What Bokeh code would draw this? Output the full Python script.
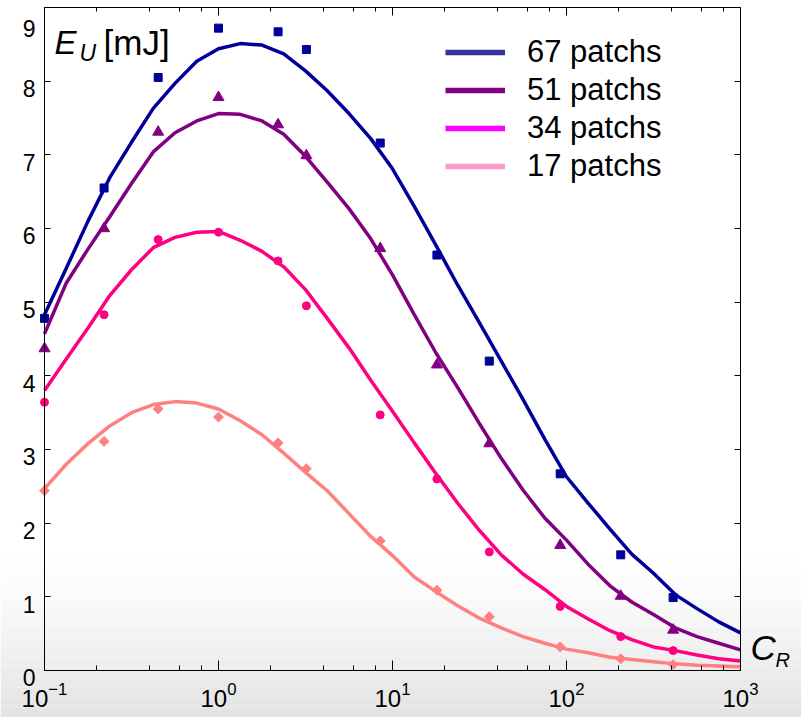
from bokeh.plotting import figure
from bokeh.models import (Range1d, LogAxis, LinearAxis, FixedTicker, LogTicker,
                          Label, Legend, LegendItem, CustomJSTickFormatter, BoxAnnotation)
from bokeh.embed import file_html
from bokeh.resources import INLINE
import math

# ---------------- data ----------------
# fitted curves, sampled every 1/8 decade of C_R
CURVE_CR = [0.1, 0.1334, 0.1778, 0.2371, 0.3162, 0.4217, 0.5623, 0.7499,
            1.0, 1.334, 1.778, 2.371, 3.162, 4.217, 5.623, 7.499,
            10.0, 13.34, 17.78, 23.71, 31.62, 42.17, 56.23, 74.99,
            100.0, 133.4, 177.8, 237.1, 316.2, 421.7, 562.3, 749.9, 1000.0]
CURVE_67 = [4.83, 5.46, 6.10, 6.69, 7.17, 7.63, 7.97, 8.27,
            8.44, 8.51, 8.49, 8.37, 8.14, 7.87, 7.56, 7.22,
            6.81, 6.30, 5.77, 5.23, 4.72, 4.20, 3.68, 3.14,
            2.63, 2.27, 1.92, 1.58, 1.32, 1.03, 0.84, 0.66, 0.51]
CURVE_51 = [4.57, 5.26, 5.72, 6.16, 6.61, 7.04, 7.30, 7.46,
            7.56, 7.55, 7.46, 7.28, 6.98, 6.63, 6.27, 5.86,
            5.37, 4.83, 4.31, 3.84, 3.35, 2.88, 2.45, 2.07,
            1.77, 1.44, 1.15, 0.93, 0.76, 0.58, 0.46, 0.37, 0.28]
CURVE_34 = [3.80, 4.23, 4.65, 5.09, 5.44, 5.74, 5.88, 5.95,
            5.96, 5.84, 5.69, 5.48, 5.17, 4.78, 4.38, 3.94,
            3.52, 3.09, 2.67, 2.27, 1.90, 1.57, 1.31, 1.10,
            0.87, 0.70, 0.54, 0.42, 0.32, 0.27, 0.21, 0.16, 0.13]
CURVE_17 = [2.47, 2.80, 3.08, 3.32, 3.50, 3.61, 3.65, 3.63,
            3.55, 3.39, 3.20, 2.95, 2.69, 2.44, 2.13, 1.82,
            1.56, 1.27, 1.07, 0.88, 0.71, 0.58, 0.46, 0.37,
            0.29, 0.24, 0.18, 0.15, 0.12, 0.09, 0.07, 0.06, 0.05]

# measured points
POINT_CR = [0.1, 0.22, 0.45, 1.0, 2.2, 3.2, 8.5, 18, 36, 92, 205, 410]
POINTS_67 = [4.78, 6.55, 8.05, 8.72, 8.67, 8.43, 7.16, 5.64, 4.20, 2.67, 1.57, 0.99]
POINTS_51 = [4.37, 6.00, 7.31, 7.78, 7.41, 6.99, 5.73, 4.15, 3.08, 1.70, 1.01, 0.55]
POINTS_34 = [3.64, 4.83, 5.85, 5.95, 5.56, 4.95, 3.47, 2.60, 1.61, 0.87, 0.46, 0.27]
POINTS_17 = [2.44, 3.11, 3.55, 3.44, 3.09, 2.74, 1.76, 1.09, 0.73, 0.32, 0.16, 0.08]

SERIES_LABELS = ["67 patchs", "51 patchs", "34 patchs", "17 patchs"]
Y_TICKS = [0, 1, 2, 3, 4, 5, 6, 7, 8, 9]
X_MIN, X_MAX = 0.1, 1000.0
Y_MIN, Y_MAX = 0.0, 9.0

# ---------------- layout / styles ----------------
W, H = 801, 717
BOX_L, BOX_R, BOX_T, BOX_B = 44, 740, 7, 670      # pixel box of the axes
FONT = "Liberation Sans"
CURVE_COLORS = ["#000099", "#800080", "#ff0080", "#ff8080"]
LEGEND_COLORS = ["#333399", "#800080", "#ff00ff", "#ff99cc"]
MARKERS = [("square", 8, 0.0), ("triangle", 11, 0.0),
           ("circle", 8, 0.0), ("square", 7, 0.7854)]
LABEL_DY = 13   # label baseline correction (px)

# the plotting frame covers the whole canvas; axes are pinned to the box
lx0, lx1 = math.log10(X_MIN), math.log10(X_MAX)
dec = (BOX_R - BOX_L) / (lx1 - lx0)
x_lo = 10 ** (lx0 - BOX_L / dec)
x_hi = 10 ** (lx1 + (W - BOX_R) / dec)
ppu = (BOX_B - BOX_T) / (Y_MAX - Y_MIN)
y_lo = Y_MIN - (H - BOX_B) / ppu
y_hi = Y_MAX + BOX_T / ppu

p = figure(width=W, height=H, x_axis_type="log",
           x_range=Range1d(x_lo, x_hi), y_range=Range1d(y_lo, y_hi),
           output_backend="svg", toolbar_location=None, min_border=0)
p.background_fill_color = "white"
p.border_fill_color = "white"
p.outline_line_color = None
p.grid.visible = False

# light grey shading towards the bottom of the picture
for i in range(16):
    g = int(round(255 - 27 * ((i + 1) / 16) ** 1.3))
    p.add_layout(BoxAnnotation(top=H - (557 + 10 * i), bottom=H - (567 + 10 * i) if i < 15 else -5,
                               top_units="screen", bottom_units="screen",
                               fill_color="#%02x%02x%02x" % (g, g, g), fill_alpha=1.0,
                               line_color=None, level="underlay"))

# bottom axis
xa = p.xaxis[0]
xa.ticker = LogTicker()
xa.fixed_location = Y_MIN
xa.bounds = (X_MIN, X_MAX)
xa.major_label_text_font = FONT
xa.major_label_text_font_size = "24px"
xa.major_label_text_color = "black"
xa.major_label_standoff = 11
xa.major_tick_in = 10
xa.major_tick_out = 0
xa.minor_tick_in = 5
xa.minor_tick_out = 0
xa.axis_line_color = "black"
xa.major_tick_line_color = "black"
xa.minor_tick_line_color = "black"

# left axis (labels hang a little below their ticks, as in the reference)
ya = p.yaxis[0]
ya.ticker = FixedTicker(ticks=Y_TICKS)
ya.formatter = CustomJSTickFormatter(code="return '\\n' + tick.toFixed(0)")
ya.fixed_location = X_MIN
ya.bounds = (Y_MIN, Y_MAX)
ya.major_label_text_font = FONT
ya.major_label_text_font_size = "23px"
ya.major_label_text_line_height = 0.6
ya.major_label_text_color = "black"
ya.major_label_standoff = 9
ya.major_tick_in = 6
ya.major_tick_out = 0
ya.minor_tick_line_color = None
ya.axis_line_color = "black"
ya.major_tick_line_color = "black"

blank = CustomJSTickFormatter(code="return ''")

# top axis (ticks only)
top = LogAxis(ticker=LogTicker(), formatter=blank, fixed_location=Y_MAX,
              bounds=(X_MIN, X_MAX),
              major_label_standoff=0, major_tick_in=8, major_tick_out=0,
              minor_tick_in=4, minor_tick_out=0, axis_line_color="black",
              major_tick_line_color="black", minor_tick_line_color="black")
p.add_layout(top, "above")

# right axis (ticks only)
right = LinearAxis(ticker=FixedTicker(ticks=Y_TICKS), formatter=blank,
                   fixed_location=X_MAX, bounds=(Y_MIN, Y_MAX),
                   major_label_standoff=0, major_tick_in=6, major_tick_out=0,
                   minor_tick_line_color=None, axis_line_color="black",
                   major_tick_line_color="black")
p.add_layout(right, "right")

curves = [CURVE_67, CURVE_51, CURVE_34, CURVE_17]
points = [POINTS_67, POINTS_51, POINTS_34, POINTS_17]

for cy, py, col, (mk, sz, ang) in zip(curves, points, CURVE_COLORS, MARKERS):
    p.line(CURVE_CR, cy, line_color=col, line_width=3.5)
    p.scatter(POINT_CR, py, marker=mk, size=sz, angle=ang,
              fill_color=col, line_color=col)

# legend with its own colours
items = []
for lab, col in zip(SERIES_LABELS, LEGEND_COLORS):
    r = p.line(x=[1.0], y=[-50.0], line_color=col, line_width=5.5)
    items.append(LegendItem(label=lab, renderers=[r]))
legend = Legend(items=items, location=(445, H - 185), padding=0, margin=0,
                spacing=0, glyph_width=60, glyph_height=38, label_height=38,
                label_standoff=22, label_text_font=FONT,
                label_text_font_size="31px", label_text_color="black",
                border_line_color=None, background_fill_alpha=0)
p.add_layout(legend, "center")

# axis titles (screen units from the canvas bottom-left)
def add_label(text, x, y, size, italic):
    p.add_layout(Label(x=x, y=y + LABEL_DY, x_units="screen", y_units="screen", text=text,
                       text_font=FONT, text_font_size=size,
                       text_font_style="italic" if italic else "normal",
                       text_color="black", text_baseline="alphabetic"))

add_label("E", 54, H - 55, "33px", True)
add_label("U", 79, H - 65, "23px", True)
add_label("[mJ]", 103, H - 55, "35px", False)
add_label("C", 750, H - 660, "35px", True)
add_label("R", 775, H - 672, "20px", True)

open("out.html", "w").write(file_html(p, INLINE))
